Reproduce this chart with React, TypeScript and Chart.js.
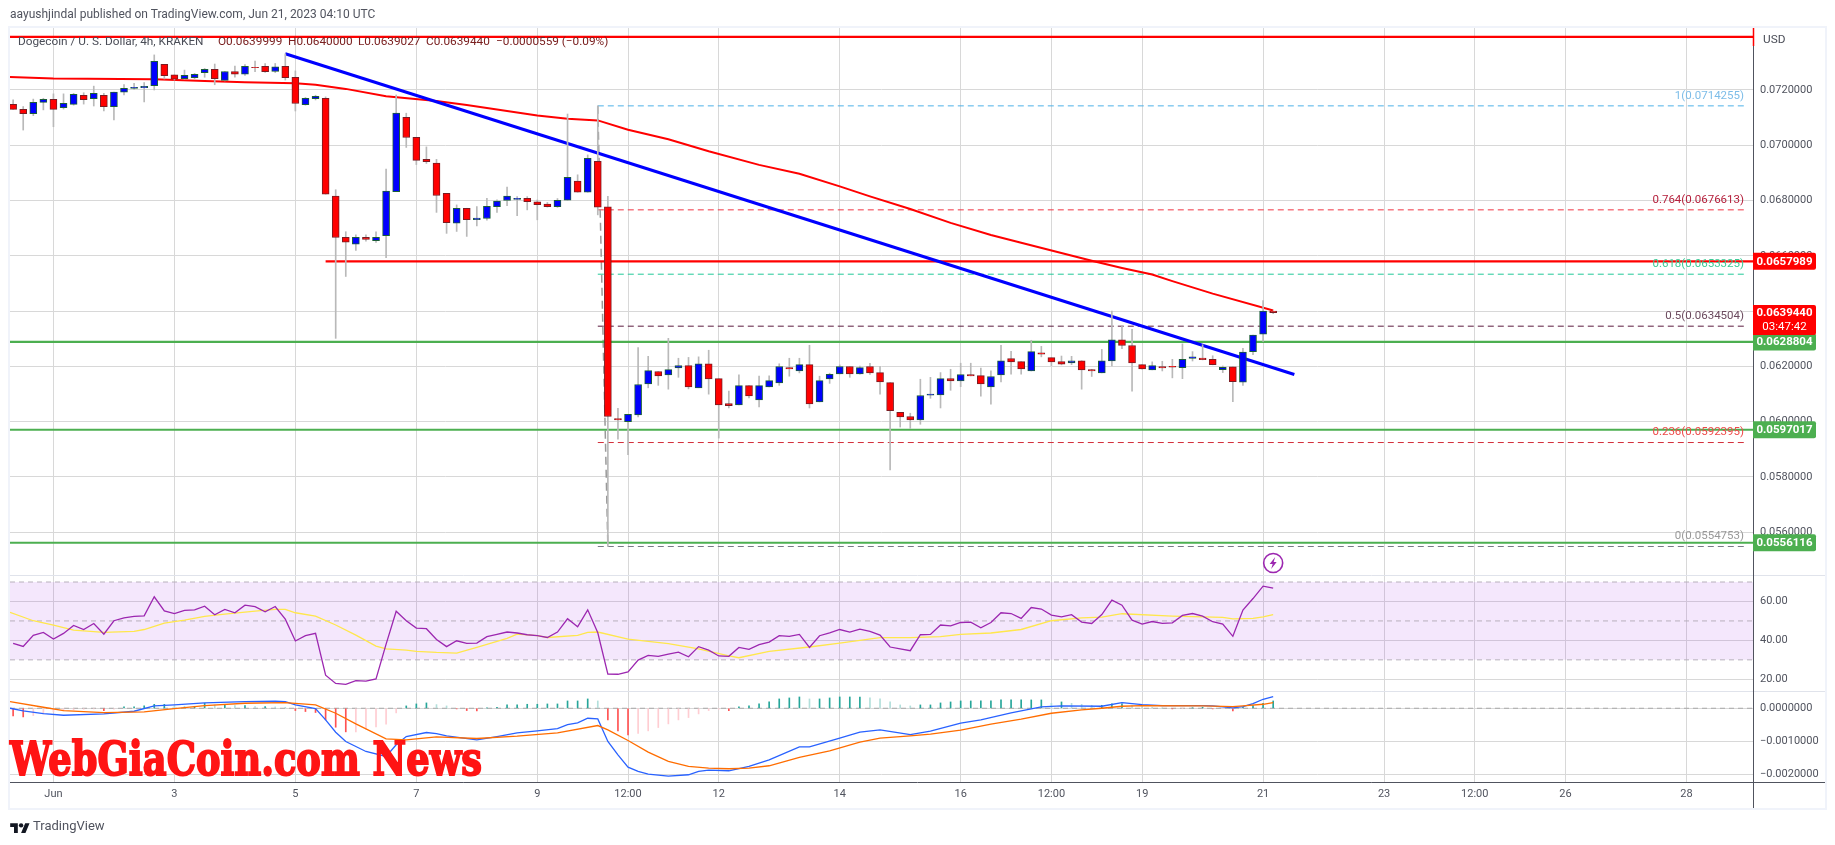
import React, { useEffect, useRef } from "react";
import { Chart, registerables } from "chart.js";

Chart.register(...registerables);

const FONT = "Roboto, 'Noto Sans', sans-serif";

const firstBar = -4;
const opens = [0.07148,0.0713,0.07114,0.07155,0.07166,0.07136,0.07148,0.07181,0.07169,0.07181,0.0714,0.07192,0.07206,0.07208,0.07216,0.07293,0.07255,0.07241,0.07245,0.07263,0.07275,0.07235,0.07267,0.07257,0.07282,0.07286,0.07267,0.07286,0.07246,0.07147,0.07169,0.0717,0.06816,0.06667,0.06642,0.06667,0.06655,0.06673,0.06832,0.07101,0.07029,0.06949,0.06935,0.06826,0.06718,0.06772,0.06731,0.06735,0.06778,0.068,0.06804,0.06808,0.06795,0.06787,0.06778,0.06801,0.0687,0.0683,0.06942,0.06777,0.06011,0.05999,0.06024,0.06136,0.06181,0.06169,0.06194,0.06202,0.06122,0.06209,0.06155,0.06065,0.0606,0.0613,0.06078,0.06125,0.0614,0.06195,0.06183,0.06206,0.06071,0.06154,0.06172,0.06199,0.06172,0.06199,0.06177,0.06141,0.06033,0.06018,0.06006,0.06095,0.06096,0.06155,0.06147,0.0617,0.06166,0.06125,0.06169,0.06228,0.06217,0.06183,0.06249,0.06231,0.06217,0.06212,0.0622,0.06188,0.06176,0.06219,0.06296,0.06275,0.06206,0.06187,0.06199,0.062,0.06195,0.06228,0.0623,0.06225,0.06188,0.06198,0.06142,0.06253,0.06316,0.0639999];
const highs = [0.07164,0.0714,0.07167,0.0717,0.07186,0.07186,0.07188,0.0719,0.07214,0.07188,0.07192,0.0722,0.07224,0.07227,0.07327,0.07293,0.07255,0.07272,0.0726,0.07278,0.07294,0.07267,0.07287,0.07292,0.07305,0.07296,0.07296,0.07331,0.07269,0.07173,0.07181,0.07175,0.06839,0.06687,0.06676,0.06676,0.06687,0.06914,0.07182,0.07116,0.07029,0.06994,0.06949,0.06826,0.06784,0.06772,0.06778,0.06808,0.06802,0.06849,0.06814,0.06814,0.06802,0.06793,0.06807,0.07113,0.06893,0.06965,0.0714255,0.06815,0.06048,0.06026,0.06268,0.06236,0.06181,0.06301,0.06229,0.06232,0.06234,0.06258,0.06155,0.0611,0.06169,0.0613,0.06164,0.06165,0.06209,0.06229,0.06229,0.06276,0.06164,0.06175,0.06205,0.06199,0.06201,0.06211,0.06199,0.06141,0.06033,0.0603,0.06153,0.0616,0.06177,0.06189,0.06211,0.06211,0.06193,0.06183,0.06276,0.06254,0.06217,0.06294,0.06272,0.06231,0.06237,0.06236,0.0622,0.06189,0.06261,0.064,0.06346,0.06334,0.06206,0.06216,0.06218,0.06225,0.06281,0.06253,0.06278,0.06238,0.06201,0.06198,0.06265,0.06313,0.06438,0.064];
const lows = [0.0713,0.07055,0.07107,0.07128,0.07067,0.07131,0.07145,0.07149,0.07142,0.07124,0.07092,0.07182,0.07202,0.07157,0.072,0.0724,0.07236,0.07239,0.07241,0.07246,0.07219,0.07233,0.07246,0.07253,0.07266,0.07264,0.07263,0.07236,0.07124,0.07145,0.07164,0.06823,0.06301,0.06525,0.06619,0.06653,0.06648,0.06593,0.06832,0.06992,0.0693,0.06934,0.06757,0.06681,0.06688,0.0667,0.06708,0.06729,0.06757,0.06781,0.06745,0.06766,0.0673,0.06776,0.06775,0.06801,0.0683,0.0683,0.06748,0.0554753,0.05936,0.0588,0.06017,0.06122,0.06131,0.06117,0.0616,0.06118,0.06122,0.06099,0.0594,0.06049,0.0606,0.06085,0.06053,0.06125,0.06131,0.06164,0.06176,0.06049,0.06071,0.06138,0.06172,0.0616,0.06171,0.0617,0.06099,0.05825,0.0598,0.05975,0.0599,0.06084,0.06049,0.06113,0.06126,0.06165,0.06092,0.06063,0.06143,0.06171,0.06171,0.06183,0.06234,0.06202,0.06205,0.06206,0.06117,0.06163,0.06176,0.06201,0.06264,0.0611,0.06189,0.06187,0.06183,0.06158,0.06155,0.06219,0.06223,0.06205,0.06177,0.06072,0.06131,0.06242,0.0629,0.0639027];
const closes = [0.0713,0.07114,0.07155,0.07166,0.0713,0.07152,0.07184,0.07165,0.07188,0.0714,0.07192,0.07206,0.0721,0.07213,0.07304,0.07252,0.07239,0.07253,0.07257,0.07275,0.07241,0.07267,0.07257,0.07286,0.07281,0.07266,0.07284,0.07245,0.07151,0.0717,0.07177,0.06823,0.06666,0.06649,0.06667,0.06659,0.06667,0.06834,0.07116,0.07028,0.06945,0.06941,0.06818,0.0672,0.06772,0.06731,0.06736,0.06779,0.06798,0.06816,0.06808,0.06796,0.06785,0.06778,0.06801,0.06884,0.0683,0.06953,0.06776,0.06018,0.06006,0.06026,0.06134,0.06184,0.06165,0.06188,0.06202,0.06125,0.06209,0.06154,0.0606,0.06057,0.0613,0.06093,0.0613,0.06148,0.06199,0.0619,0.06206,0.06064,0.06148,0.06171,0.06199,0.06172,0.06195,0.06176,0.06143,0.06039,0.06017,0.06006,0.06094,0.06099,0.06155,0.06147,0.0617,0.06165,0.06136,0.06163,0.0622,0.06216,0.0619,0.06253,0.06244,0.06216,0.06208,0.0622,0.06187,0.06183,0.0622,0.06296,0.06275,0.06212,0.0619,0.06202,0.06194,0.06197,0.06225,0.06234,0.06224,0.06206,0.06196,0.06144,0.06251,0.06313,0.064,0.063944];

const emaBars = [-4.31,0,10,15,19,24,26,29,33,38,41,48,51,54,57,61,65,70,74,78,81,85,89,93,96,103,106,109,111,115,121];
const emaValues = [0.07247,0.07242,0.07239,0.07233,0.07228,0.07224,0.07219,0.07204,0.07177,0.0716,0.07146,0.07108,0.07096,0.0709,0.07056,0.07022,0.06978,0.06929,0.06897,0.06851,0.06815,0.06769,0.06719,0.06675,0.06647,0.06582,0.06556,0.06532,0.06508,0.06463,0.06402];

const trendBars = [23, 123.1];
const trendValues = [0.07331, 0.0617];
const topLineLevel = 0.07392;
const resistanceLevel = 0.0657989;
const resistanceStart = 27;
const supportLevels = [0.0628804, 0.0597017, 0.0556116];

const fibStartBar = 54;
const fibEndBar = 168;
const fibLabels = ["1", "0.764", "0.618", "0.5", "0.236", "0"];
const fibLevels = [0.0714255, 0.0676613, 0.0653325, 0.0634504, 0.0592395, 0.0554753];
const fibLineColors = ["#4db1e8", "#f23645", "#20c997", "#5b1a3e", "#d32f3a", "#787b86"];
const fibTextColors = ["#7dbde8", "#b5203c", "#3ccb96", "#6b4a5e", "#ee4a4a", "#999999"];
const fibLinkBars = [54, 55];
const fibLinkValues = [0.0714255, 0.0554753];

const rsiValues = [38.5,36.9,42.6,44.1,40.7,43.6,47.7,45.6,48.7,43.2,50.1,51.6,52.3,52.6,62.4,55.2,53.8,55.4,55.7,57.6,53.2,55.9,54.2,58.1,57.3,54.7,57.4,50.9,39.7,42.4,43.6,22.1,17.9,17.4,19.3,19.1,20.2,38.1,55.0,50.1,46.3,46.0,40.5,36.8,39.8,38.5,38.6,41.9,43.1,44.3,43.8,42.9,42.4,41.5,44.3,51.1,47.0,55.7,43.9,22.7,22.6,23.8,29.9,32.3,31.8,33.0,34.0,31.6,36.8,35.0,32.0,31.8,36.4,35.4,37.8,39.1,42.4,42.1,43.1,36.4,42.4,43.9,45.6,44.3,45.8,44.6,42.7,36.6,35.6,34.7,42.9,43.1,47.9,47.5,49.2,49.4,46.5,49.2,54.2,53.8,51.3,56.9,56.1,53.0,52.1,53.2,49.4,48.7,53.3,60.7,58.1,50.4,48.4,49.7,48.7,49.0,52.8,53.8,52.5,49.6,48.4,42.1,55.6,61.5,67.9,66.8];
const rsiMaBars = [-4.31,-2,0,2,5,8,9,11,13,15,17,20,22,23,24,26,28,30,32,33,35,36,38,40,42,45,46,48,49,52,53,54,57,61,64,67,68,71,75,78,82,85,88,90,93,96,99,102,104,106,111,114,116,117,119,120,121];
const rsiMaValues = [54.4,50.1,47.9,45.3,44.1,44.6,45.6,48.9,50.4,52.3,53.5,55.0,55.9,55.9,54.2,52.5,47.9,42.7,37.1,35.6,35.0,34.4,33.8,33.5,36.4,41.0,43.2,42.4,41.5,42.6,44.1,44.3,40.7,38.3,35.6,32.0,31.1,34.4,36.6,38.6,41.4,41.4,41.9,43.1,43.8,45.6,50.1,51.6,52.0,53.7,52.5,52.1,51.8,51.1,51.3,52.1,53.3];
const rsiBandUpper = 70;
const rsiBandMiddle = 50;
const rsiBandLower = 30;

const macdBars = [-4.31,-3,-1,1,5,8,10,12,15,19,22,23,24,26,27,28,29,31,33,34,35,37,38,39,42,44,46,48,50,51,52,53,54,55,56,57,58,59,61,63,64,65,67,69,71,74,75,78,80,82,85,87,90,92,95,98,100,104,106,108,110,114,115,117,118,119,120,121];
const macdValues = [0,-0.000081,-0.000162,-0.000212,-0.000172,-0.000091,0.000071,0.000101,0.000162,0.000202,0.000212,0.000202,0.000101,-0.00001,-0.000354,-0.000727,-0.00101,-0.001313,-0.001465,-0.001111,-0.000859,-0.000737,-0.000768,-0.000838,-0.00096,-0.000859,-0.000747,-0.000687,-0.000616,-0.000495,-0.000444,-0.000303,-0.000323,-0.00101,-0.001414,-0.001788,-0.001919,-0.002,-0.00206,-0.00202,-0.001919,-0.001879,-0.001899,-0.001768,-0.001566,-0.001172,-0.001172,-0.000909,-0.000727,-0.000657,-0.000798,-0.000697,-0.000455,-0.000354,-0.000141,0.00004,0.000071,0.000061,0.000172,0.000111,0.000081,0.000081,0.000071,0.00001,0.000051,0.000141,0.000273,0.000354];
const signalBars = [-4.31,-1,1,5,9,12,15,19,23,26,28,30,33,35,38,42,46,50,54,55,57,59,61,63,65,67,69,71,74,77,80,82,85,87,90,93,96,99,102,104,106,108,114,117,118,120,121];
const signalValues = [0.000202,0.00003,-0.000071,-0.000131,-0.000111,-0.00001,0.000081,0.000152,0.000172,0.000101,-0.000152,-0.000475,-0.000929,-0.00096,-0.000869,-0.000919,-0.000848,-0.000747,-0.000525,-0.000657,-0.00098,-0.001333,-0.001616,-0.001768,-0.001818,-0.001838,-0.001818,-0.001747,-0.001495,-0.001293,-0.00103,-0.000909,-0.000838,-0.000788,-0.000667,-0.000485,-0.000333,-0.000152,-0.00005,0,0.000061,0.000081,0.000071,0.000051,0.000071,0.000121,0.000172];
const histValues = [-0.000232,-0.000263,-0.000222,-0.000172,-0.00011,-0.00008,-0.00005,-0.00003,-0.00002,-0.00007,-0.00003,0.00004,0.00004,0.00007,0.00012,0.00012,0.00007,0.00006,0.00006,0.00015,0.0001,0.0001,0.00008,0.00008,0.00005,0.00005,0.00004,0.00003,-0.00007,-0.0001,-0.00013,-0.000354,-0.000576,-0.000717,-0.000717,-0.000636,-0.000566,-0.000485,-0.000141,0.000071,0.000131,0.000162,0.000111,0.000071,-0.00002,-0.00007,-0.00008,0.00001,0.00003,0.000101,0.000101,0.000121,0.000121,0.000131,0.000131,0.000222,0.000222,0.000283,0.000222,-0.000354,-0.000687,-0.000808,-0.000768,-0.000687,-0.000586,-0.000475,-0.000354,-0.000283,-0.000172,-0.00007,-0.00003,-0.00007,0.00004,0.000071,0.000131,0.000192,0.000283,0.000313,0.000343,0.000283,0.000283,0.000313,0.000343,0.000343,0.000343,0.000313,0.000283,0.000192,0.000101,0.000071,0.000101,0.000101,0.000162,0.000192,0.000222,0.000222,0.000222,0.000222,0.000253,0.000253,0.000253,0.000253,0.000253,0.00015,0.000192,0.00015,0.00012,0.00009,0.00009,0.000131,0.000131,0.00008,0.00005,0.00003,0.000005,-0.00002,-0.00001,0.00001,0.00003,-0.00002,-0.00001,-0.00008,0.00003,0.00008,0.00015,0.000222];

const timeTickBars = [0,12,24,36,48,57,66,78,90,99,108,120,132,141,150,162];
const timeTickLabels = ["Jun","3","5","7","9","12:00","12","14","16","12:00","19","21","23","12:00","26","28"];
const priceTicks = [0.072,0.07,0.068,0.066,0.064,0.062,0.06,0.058,0.056];
const rsiTicks = [60,40,20];
const macdTicks = [0,-0.001,-0.002];

const titleText = "aayushjindal published on TradingView.com, Jun 21, 2023 04:10 UTC";
const symbolText = "Dogecoin / U. S. Dollar, 4h, KRAKEN";
const ohlcTexts = ["O0.0639999","H0.0640000","L0.0639027","C0.0639440","−0.0000559 (−0.09%)"];
const watermarkText = "WebGiaCoin.com News";
const lastPriceText = "0.0639440";
const countdownText = "03:47:42";
const lastPrice = 0.063944;

const X_MIN = -4.31;
const X_MAX = 168.6;

const toXY = (bars: number[], values: number[]) => bars.map((x, i) => ({ x, y: values[i] }));
const barAt = (i: number) => firstBar + i;
const toRange = (values: number[]) => values.map((_, i) => barAt(i));

function line(bars: number[], values: number[], yAxisID: string, color: string, width: number, order: number, extra: any = {}) {
  return {
    type: "line",
    data: toXY(bars, values),
    yAxisID,
    xAxisID: "x",
    borderColor: color,
    borderWidth: width,
    pointRadius: 0,
    tension: 0,
    fill: false,
    order,
    ...extra,
  };
}

function histColor(v: number, prev: number) {
  if (v >= 0) return v >= prev ? "#26a69a" : "#b2dfdb";
  return v < prev ? "#ff5252" : "#ffcdd2";
}

function fixedTicks(values: number[]) {
  return (scale: any) => {
    scale.ticks = values.map((value) => ({ value }));
  };
}

const lightGrid = "#d8d8d8";

function roundRect(ctx: any, x: number, y: number, w: number, h: number, r: number | number[]) {
  ctx.beginPath();
  ctx.roundRect(x, y, w, h, r);
  ctx.fill();
}

const overlay = {
  id: "overlay",
  afterDraw(chart: any) {
    const { ctx, chartArea } = chart;
    const y = chart.scales.y;
    const right = chartArea.right;
    ctx.save();

    // frame and pane separators
    ctx.strokeStyle = "#f0f3fa";
    ctx.lineWidth = 2;
    ctx.strokeRect(9, 27, 1817, 782);
    ctx.strokeStyle = "#e0e3eb";
    ctx.lineWidth = 1;
    ctx.beginPath();
    ctx.moveTo(10, 575.5);
    ctx.lineTo(1825, 575.5);
    ctx.moveTo(10, 691.5);
    ctx.lineTo(1825, 691.5);
    ctx.stroke();
    ctx.strokeStyle = "#50535e";
    ctx.beginPath();
    ctx.moveTo(10, 782.5);
    ctx.lineTo(1825, 782.5);
    ctx.moveTo(right + 0.5, 28);
    ctx.lineTo(right + 0.5, 808);
    ctx.stroke();
    ctx.strokeStyle = "#ff0000";
    ctx.lineWidth = 1.5;
    ctx.beginPath();
    ctx.moveTo(right + 0.5, 28);
    ctx.lineTo(right + 0.5, 46);
    ctx.stroke();

    // legend
    ctx.textBaseline = "middle";
    ctx.textAlign = "left";
    ctx.font = `11.8px ${FONT}`;
    ctx.fillStyle = "#4a4d57";
    ctx.fillText(symbolText, 18, 42);
    const ohlcX = [218, 288, 358, 426, 496];
    ctx.fillStyle = "#7a2020";
    ohlcTexts.forEach((t, i) => ctx.fillText(t, ohlcX[i], 42));
    ctx.fillStyle = "#4a4d57";
    ctx.fillText("USD", 1763, 40);

    // fib labels
    ctx.textAlign = "right";
    ctx.font = `11.5px ${FONT}`;
    fibLevels.forEach((lvl, i) => {
      ctx.fillStyle = fibTextColors[i];
      ctx.fillText(`${fibLabels[i]}(${lvl.toFixed(7)})`, 1744, y.getPixelForValue(lvl) - 10);
    });

    // price tags
    ctx.textAlign = "center";
    ctx.font = `bold 11.5px ${FONT}`;
    const tagX = right;
    const tagW = 63;
    const drawTag = (value: number, color: string) => {
      const py = y.getPixelForValue(value);
      ctx.fillStyle = color;
      roundRect(ctx, tagX, py - 8.5, tagW, 17, [0, 2, 2, 0]);
      ctx.fillStyle = "#ffffff";
      ctx.fillText(value.toFixed(7), tagX + tagW / 2, py + 0.5);
    };
    drawTag(resistanceLevel, "#ff0000");
    supportLevels.forEach((lvl) => drawTag(lvl, "#4caf50"));
    const lastY = y.getPixelForValue(lastPrice);
    ctx.fillStyle = "#ff0000";
    roundRect(ctx, tagX, lastY - 7.5, tagW, 30, [0, 2, 2, 0]);
    ctx.fillStyle = "#ffffff";
    ctx.fillText(lastPriceText, tagX + tagW / 2, lastY + 0.5);
    ctx.font = `11.5px ${FONT}`;
    ctx.fillText(countdownText, tagX + tagW / 2, lastY + 14.5);

    // lightning marker
    const cx = chart.scales.x.getPixelForValue(121);
    const cy = 563;
    ctx.strokeStyle = "#9c27b0";
    ctx.lineWidth = 1.6;
    ctx.beginPath();
    ctx.arc(cx, cy, 9.5, 0, Math.PI * 2);
    ctx.stroke();
    ctx.fillStyle = "#9c27b0";
    ctx.beginPath();
    ctx.moveTo(cx + 2, cy - 6);
    ctx.lineTo(cx - 3.5, cy + 1);
    ctx.lineTo(cx - 0.5, cy + 1);
    ctx.lineTo(cx - 2, cy + 6);
    ctx.lineTo(cx + 3.5, cy - 1);
    ctx.lineTo(cx + 0.5, cy - 1);
    ctx.closePath();
    ctx.fill();

    // watermark
    ctx.textAlign = "left";
    ctx.textBaseline = "alphabetic";
    ctx.font = "bold 47px 'DejaVu Serif'";
    const w = ctx.measureText(watermarkText).width;
    ctx.translate(10, 775);
    ctx.scale(472 / w, 1);
    ctx.fillStyle = "#ff1414";
    ctx.strokeStyle = "#ff1414";
    ctx.lineWidth = 2;
    ctx.strokeText(watermarkText, 0, 0);
    ctx.fillText(watermarkText, 0, 0);

    ctx.restore();
  },
};

export default function App() {
  const ref = useRef<HTMLCanvasElement | null>(null);

  useEffect(() => {
    const barsIdx = opens.map((_, i) => barAt(i));
    const upColors = opens.map((o, i) => (closes[i] >= o ? "#0000ff" : "#ff0000"));
    const edgeColors = opens.map((o, i) => (closes[i] >= o ? "#1b5e38" : "#7a1c22"));

    const datasets: any[] = [
      // candles
      {
        type: "bar",
        data: barsIdx.map((x, i) => ({ x, y: [opens[i], closes[i]] })),
        backgroundColor: upColors,
        borderColor: edgeColors,
        borderWidth: 1,
        borderSkipped: false,
        barThickness: 7,
        grouped: false,
        xAxisID: "x",
        yAxisID: "y",
        order: 1,
      },
      {
        type: "bar",
        data: barsIdx.map((x, i) => ({ x, y: [lows[i], highs[i]] })),
        backgroundColor: "#b9b9b9",
        borderWidth: 0,
        barThickness: 1,
        grouped: false,
        xAxisID: "x",
        yAxisID: "y",
        order: 2,
      },
      // drawings
      line(trendBars, trendValues, "y", "#0000ff", 3, 3),
      line(emaBars, emaValues, "y", "#ff0000", 2, 4),
      line([X_MIN, X_MAX], [topLineLevel, topLineLevel], "y", "#ff0000", 2.2, 5),
      line([resistanceStart, X_MAX], [resistanceLevel, resistanceLevel], "y", "#ff0000", 2.2, 5),
      ...supportLevels.map((lvl) => line([X_MIN, X_MAX], [lvl, lvl], "y", "#4caf50", 2.2, 5)),
      line(fibLinkBars, fibLinkValues, "y", "#9a9a9a", 1.5, 6, { borderDash: [8, 5] }),
      ...fibLevels.map((lvl, i) =>
        line([fibStartBar, fibEndBar], [lvl, lvl], "y", fibLineColors[i], 1, 6, { borderDash: [6, 4] })
      ),
      // RSI pane
      line(toRange(rsiValues), rsiValues, "yRsi", "#9c27b0", 1.3, 10),
      line(rsiMaBars, rsiMaValues, "yRsi", "#ffe74c", 1.3, 11),
      line([X_MIN, X_MAX], [rsiBandUpper, rsiBandUpper], "yRsi", "#b8b0bc", 1, 12, { borderDash: [5, 4] }),
      line([X_MIN, X_MAX], [rsiBandMiddle, rsiBandMiddle], "yRsi", "#b8b0bc", 1, 12, { borderDash: [5, 4] }),
      line([X_MIN, X_MAX], [rsiBandLower, rsiBandLower], "yRsi", "#b8b0bc", 1, 12, { borderDash: [5, 4] }),
      line([X_MIN, X_MAX], [rsiBandUpper, rsiBandUpper], "yRsi", "rgba(0,0,0,0)", 0, 13, {
        fill: { value: rsiBandLower },
        backgroundColor: "rgba(155,40,230,0.11)",
      }),
      // MACD pane
      line(signalBars, signalValues, "yMacd", "#ff6d00", 1.3, 20),
      line(macdBars, macdValues, "yMacd", "#2962ff", 1.3, 21),
      {
        type: "bar",
        data: barsIdx.map((x, i) => ({ x, y: histValues[i] })),
        backgroundColor: histValues.map((v, i) => histColor(v, i ? histValues[i - 1] : 0)),
        borderWidth: 0,
        barThickness: 1,
        grouped: false,
        xAxisID: "x",
        yAxisID: "yMacd",
        order: 22,
      },
      line([X_MIN, X_MAX], [0, 0], "yMacd", "#a8a8a8", 1, 23, { borderDash: [5, 4] }),
    ];

    const yCommon = {
      type: "linear",
      position: "right",
      stack: "panes",
      border: { display: false },
      afterFit: (s: any) => {
        s.width = 72;
      },
    };
    const tickStyle = {
      color: "#50535e",
      padding: 7,
      autoSkip: false,
      font: { family: FONT, size: 11 },
    };

    const chart = new Chart(ref.current as HTMLCanvasElement, {
      type: "bar",
      data: { datasets },
      plugins: [overlay],
      options: {
        responsive: false,
        animation: false,
        events: [],
        layout: { padding: { left: 10, right: 10, top: 28, bottom: 37 } },
        plugins: { legend: { display: false }, tooltip: { enabled: false }, title: { display: false } },
        scales: {
          x: {
            type: "linear",
            min: X_MIN,
            max: X_MAX,
            offset: false,
            border: { display: false },
            grid: { color: lightGrid, drawTicks: false, offset: false },
            afterBuildTicks: fixedTicks(timeTickBars),
            afterFit: (s: any) => {
              s.height = 26;
            },
            ticks: {
              ...tickStyle,
              padding: 6,
              maxRotation: 0,
              callback: (v: number) => timeTickLabels[timeTickBars.indexOf(v)],
            },
          },
          y: {
            ...yCommon,
            min: 0.054444,
            max: 0.074244,
            stackWeight: 547,
            grid: { color: lightGrid, drawTicks: false },
            afterBuildTicks: fixedTicks(priceTicks),
            ticks: { ...tickStyle, callback: (v: number) => v.toFixed(7) },
          },
          yRsi: {
            ...yCommon,
            min: 14,
            max: 73.6,
            stackWeight: 116,
            grid: { color: lightGrid, drawTicks: false },
            afterBuildTicks: fixedTicks(rsiTicks),
            ticks: { ...tickStyle, callback: (v: number) => v.toFixed(2) },
          },
          yMacd: {
            ...yCommon,
            min: -0.00224,
            max: 0.000524,
            stackWeight: 91,
            grid: { color: lightGrid, drawTicks: false },
            afterBuildTicks: fixedTicks(macdTicks),
            ticks: {
              ...tickStyle,
              callback: (v: number) => (v < 0 ? "−" + Math.abs(v).toFixed(7) : v.toFixed(7)),
            },
          },
        },
      },
    } as any);
    return () => chart.destroy();
  }, []);

  return (
    <div style={{ position: "fixed", left: 0, top: 0, width: 1835, height: 845, overflow: "hidden", background: "#fff" }}>
      <canvas ref={ref} width={1835} height={845} style={{ display: "block", width: 1835, height: 845 }} />
      <div style={{ position: "absolute", left: 10, top: 7, font: `12px ${FONT}`, color: "#50535e", whiteSpace: "nowrap" }}>
        {titleText}
      </div>
      <svg viewBox="0 0 36 22" width={20} height={12} style={{ position: "absolute", left: 10, top: 821 }}>
        <path d="M14 22H7V11H0V4h14v18zM28 22h-8l7.5-18h8L28 22z" fill="#131722" />
        <circle cx="20" cy="8" r="4" fill="#131722" />
      </svg>
      <div style={{ position: "absolute", left: 33, top: 818, font: `13px ${FONT}`, color: "#50535e", whiteSpace: "nowrap" }}>
        TradingView
      </div>
    </div>
  );
}
